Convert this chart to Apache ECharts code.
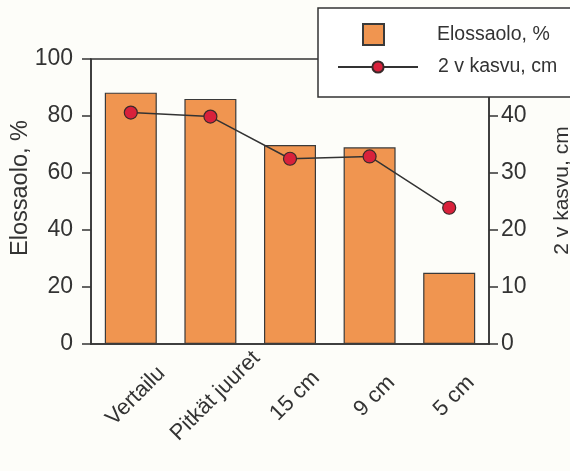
<!DOCTYPE html>
<html><head><meta charset="utf-8">
<script src="https://cdn.jsdelivr.net/npm/echarts@6/dist/echarts.min.js"></script>
<style>html,body{margin:0;padding:0;background:#fdfdf9;}#c{width:570px;height:471px;}</style>
</head><body><div id="c"></div>
<script>
const categories = ['Vertailu', 'Pitkät juuret', '15 cm', '9 cm', '5 cm'];
const survival = [88.2, 86.0, 69.8, 69.0, 25.0];
const growth = [40.6, 39.9, 32.5, 32.9, 23.9];
const leftTicks = [0, 20, 40, 60, 80, 100];
const rightTicks = [0, 10, 20, 30, 40, 50];

const FONT = 'Liberation Sans, Arial, sans-serif';
const AX = '#333333';
const chart = echarts.init(document.getElementById('c'), null, {renderer: 'canvas'});
chart.setOption({
  backgroundColor: '#fdfdf9',
  animation: false,
  grid: {left: 91, right: 81, top: 59, bottom: 127, outerBoundsMode: 'none', containLabel: false,
    show: true, borderColor: AX, borderWidth: 1.5, backgroundColor: 'transparent'},
  legend: [
    {data: ['Elossaolo, %'], left: 357, top: 18, itemWidth: 21, itemHeight: 21, icon: 'rect',
      textStyle: {fontFamily: FONT, fontSize: 19.5, color: AX, padding: [0, 0, 0, 48]}, z: 20},
    {data: ['2 v kasvu, cm'], left: 332, top: 52, itemWidth: 80, itemHeight: 14,
      textStyle: {fontFamily: FONT, fontSize: 19.5, color: AX, padding: [0, 0, 0, 15]}, z: 20}
  ],
  graphic: [{type: 'rect', shape: {x: 318, y: 8, width: 300, height: 89}, style: {fill: '#ffffff', stroke: AX, lineWidth: 1.5}, z: 10}],
  xAxis: {
    type: 'category', data: categories,
    axisLine: {lineStyle: {color: AX, width: 1.5}},
    axisTick: {alignWithLabel: true, length: 8, lineStyle: {color: AX, width: 1.5}},
    axisLabel: {rotate: 45, margin: 57, align: 'center', verticalAlign: 'middle', padding: [0, 0, 0, 14],
      fontFamily: FONT, fontSize: 22, color: AX, interval: 0}
  },
  yAxis: [
    {type: 'value', min: leftTicks[0], max: leftTicks[leftTicks.length - 1], interval: 20,
      name: 'Elossaolo, %', nameLocation: 'middle', nameGap: 58, nameRotate: 90, nameMoveOverlap: false,
      nameTextStyle: {fontFamily: FONT, fontSize: 23.5, color: AX, padding: [0, 0, 0, 27]},
      axisLine: {show: true, lineStyle: {color: AX, width: 1.5}},
      axisTick: {show: true, length: 9, lineStyle: {color: AX, width: 1.5}},
      axisLabel: {fontFamily: FONT, fontSize: 23, color: AX, margin: 18},
      splitLine: {show: false}},
    {type: 'value', position: 'right', min: rightTicks[0], max: rightTicks[rightTicks.length - 1], interval: 10,
      name: '2 v kasvu, cm', nameLocation: 'middle', nameGap: 63, nameRotate: 90, nameMoveOverlap: false,
      nameTextStyle: {fontFamily: FONT, fontSize: 21, color: AX, padding: [0, 0, 0, 22]},
      axisLine: {show: true, lineStyle: {color: AX, width: 1.5}},
      axisTick: {show: true, length: 9, lineStyle: {color: AX, width: 1.5}},
      axisLabel: {fontFamily: FONT, fontSize: 23, color: AX, margin: 12},
      splitLine: {show: false}}
  ],
  series: [
    {name: 'Elossaolo, %', type: 'bar', data: survival, yAxisIndex: 0, barWidth: 52,
      itemStyle: {color: '#f09550', borderColor: '#3a3a3a', borderWidth: 1.2}},
    {name: '2 v kasvu, cm', type: 'line', data: growth, yAxisIndex: 1,
      symbol: 'circle', symbolSize: 13,
      lineStyle: {color: AX, width: 1.5},
      itemStyle: {color: '#d9213b', borderColor: '#3a2a2a', borderWidth: 1.2}}
  ]
});
</script></body></html>
